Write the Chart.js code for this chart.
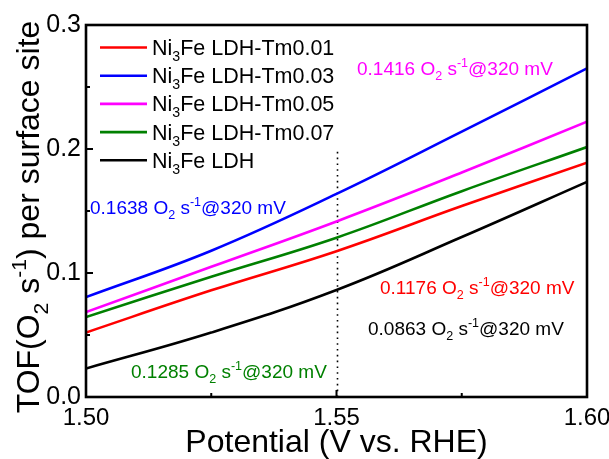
<!DOCTYPE html>
<html>
<head>
<meta charset="utf-8">
<script src="https://cdn.jsdelivr.net/npm/chart.js@4.4.1/dist/chart.umd.min.js"></script>
<style>
  html, body { margin: 0; padding: 0; background: #fff; }
  #chart { display: block; }
</style>
</head>
<body>
<canvas id="chart" width="609" height="459"></canvas>
<script>
// potential (V vs. RHE)
const potential = [1.50, 1.525, 1.55, 1.575, 1.60];

// TOF values
const tof001 = [0.052, 0.086, 0.1176, 0.154, 0.189];
const tof003 = [0.0806, 0.118, 0.1638, 0.214, 0.265];
const tof005 = [0.0685, 0.105, 0.1416, 0.181, 0.222];
const tof007 = [0.0645, 0.097, 0.1285, 0.166, 0.2016];
const tofLDH = [0.023, 0.052, 0.0863, 0.129, 0.1735];

const seriesNames = ['LDH-Tm0.01', 'LDH-Tm0.03', 'LDH-Tm0.05', 'LDH-Tm0.07', 'LDH'];
const seriesColors = ['#ff0000', '#0000ff', '#ff00ff', '#008000', '#000000'];

const xTicks = [1.50, 1.55, 1.60];
const xTickLabels = ['1.50', '1.55', '1.60'];
const xMinor = [1.525, 1.575];
const yTicks = [0.0, 0.1, 0.2, 0.3];
const yTickLabels = ['0.0', '0.1', '0.2', '0.3'];
const yMinor = [0.05, 0.15, 0.25];

const refLine = { x: 1.55, from: 0, to: 0.2 };

// TOF labels at 320 mV
const notes = [
    { value: '0.1416', color: '#ff00ff', x: 357, y: 75 },
    { value: '0.1638', color: '#0000ff', x: 90, y: 214 },
    { value: '0.1176', color: '#ff0000', x: 380, y: 294 },
    { value: '0.0863', color: '#000000', x: 368, y: 335 },
    { value: '0.1285', color: '#008000', x: 131, y: 378 }
];

const FONT = '"Liberation Sans", Arial, sans-serif';

// draw text runs with sub/superscripts, returns width
function richText(ctx, parts, x, y, size, color, measureOnly) {
    let cx = x;
    ctx.fillStyle = color;
    ctx.textBaseline = 'alphabetic';
    ctx.textAlign = 'left';
    for (const p of parts) {
        let s = size, dy = 0;
        if (p.sub) { s = size * 0.66; dy = size * 0.28; }
        if (p.sup) { s = size * 0.66; dy = -size * 0.42; }
        ctx.font = s + 'px ' + FONT;
        if (!measureOnly) ctx.fillText(p.t, cx, y + dy);
        cx += ctx.measureText(p.t).width;
    }
    return cx - x;
}

const decorPlugin = {
    id: 'decor',
    beforeDatasetsDraw(chart) {
        const ctx = chart.ctx;
        const xs = chart.scales.x, ys = chart.scales.y;
        const px = Math.round(xs.getPixelForValue(refLine.x)) + 0.5;
        ctx.save();
        ctx.strokeStyle = '#000';
        ctx.lineWidth = 1.6;
        ctx.setLineDash([1.6, 4.2]);
        ctx.beginPath();
        ctx.moveTo(px, ys.getPixelForValue(refLine.from));
        ctx.lineTo(px, ys.getPixelForValue(refLine.to));
        ctx.stroke();
        ctx.restore();
    },
    afterDraw(chart) {
        const ctx = chart.ctx;
        const a = chart.chartArea;
        const xs = chart.scales.x, ys = chart.scales.y;
        ctx.save();
        // frame
        ctx.strokeStyle = '#000';
        ctx.lineWidth = 2.6;
        ctx.strokeRect(a.left, a.top, a.right - a.left, a.bottom - a.top);
        // inward ticks
        ctx.lineWidth = 2;
        ctx.beginPath();
        xTicks.forEach(v => {
            const p = xs.getPixelForValue(v);
            ctx.moveTo(p, a.bottom); ctx.lineTo(p, a.bottom - 7);
        });
        xMinor.forEach(v => {
            const p = xs.getPixelForValue(v);
            ctx.moveTo(p, a.bottom); ctx.lineTo(p, a.bottom - 4);
        });
        yTicks.forEach(v => {
            const p = ys.getPixelForValue(v);
            ctx.moveTo(a.left, p); ctx.lineTo(a.left + 7, p);
        });
        yMinor.forEach(v => {
            const p = ys.getPixelForValue(v);
            ctx.moveTo(a.left, p); ctx.lineTo(a.left + 4, p);
        });
        ctx.stroke();

        // legend
        seriesNames.forEach((name, i) => {
            const ly = 47.5 + i * 28.2;
            ctx.strokeStyle = seriesColors[i];
            ctx.lineWidth = 2.6;
            ctx.beginPath();
            ctx.moveTo(100, ly); ctx.lineTo(147, ly);
            ctx.stroke();
            richText(ctx, [{ t: 'Ni' }, { t: '3', sub: true }, { t: 'Fe ' + name }], 152, ly + 7.5, 21.5, '#000');
        });

        // annotations
        notes.forEach(n => {
            richText(ctx, [{ t: n.value + ' O' }, { t: '2', sub: true }, { t: ' s' },
                { t: '-1', sup: true }, { t: '@320 mV' }], n.x, n.y, 19, n.color);
        });

        // axis titles
        ctx.fillStyle = '#000';
        ctx.font = '32px ' + FONT;
        ctx.textAlign = 'center';
        ctx.textBaseline = 'alphabetic';
        ctx.fillText('Potential (V vs. RHE)', (a.left + a.right) / 2, 452);

        const yParts = [{ t: 'TOF(O' }, { t: '2', sub: true }, { t: ' s' }, { t: '-1', sup: true },
            { t: ') per surface site' }];
        const w = richText(ctx, yParts, 0, 0, 32, '#000', true);
        ctx.translate(39, 217);
        ctx.rotate(-Math.PI / 2);
        richText(ctx, yParts, -w / 2, 0, 32, '#000');
        ctx.restore();
    }
};

const datasets = [tof001, tof003, tof005, tof007, tofLDH].map((vals, i) => ({
    label: 'Ni3Fe ' + seriesNames[i],
    data: potential.map((x, j) => ({ x: x, y: vals[j] })),
    borderColor: seriesColors[i],
    borderWidth: 2.6,
    pointRadius: 0,
    fill: false,
    tension: 0.4
}));

new Chart(document.getElementById('chart').getContext('2d'), {
    type: 'line',
    data: { datasets: datasets },
    options: {
        responsive: false,
        animation: false,
        devicePixelRatio: 1,
        layout: { padding: { left: 0, top: 25, right: 22, bottom: 0 } },
        plugins: { legend: { display: false }, tooltip: { enabled: false } },
        scales: {
            x: {
                type: 'linear',
                min: 1.50,
                max: 1.60,
                afterBuildTicks: s => { s.ticks = xTicks.map(v => ({ value: v })); },
                afterFit: s => { s.height = 62; s.paddingLeft = 0; s.paddingRight = 0; },
                grid: { display: false, drawTicks: false },
                border: { display: false },
                ticks: {
                    padding: 7,
                    color: '#000',
                    font: { family: FONT, size: 24 },
                    maxRotation: 0,
                    callback: (v, i) => xTickLabels[i]
                }
            },
            y: {
                type: 'linear',
                min: 0,
                max: 0.3,
                afterBuildTicks: s => { s.ticks = yTicks.map(v => ({ value: v })); },
                afterFit: s => { s.width = 86; s.paddingTop = 0; s.paddingBottom = 0; },
                grid: { display: false, drawTicks: false },
                border: { display: false },
                ticks: {
                    padding: 5,
                    color: '#000',
                    font: { family: FONT, size: 25 },
                    callback: (v, i) => yTickLabels[i]
                }
            }
        }
    },
    plugins: [decorPlugin]
});
</script>
</body>
</html>
